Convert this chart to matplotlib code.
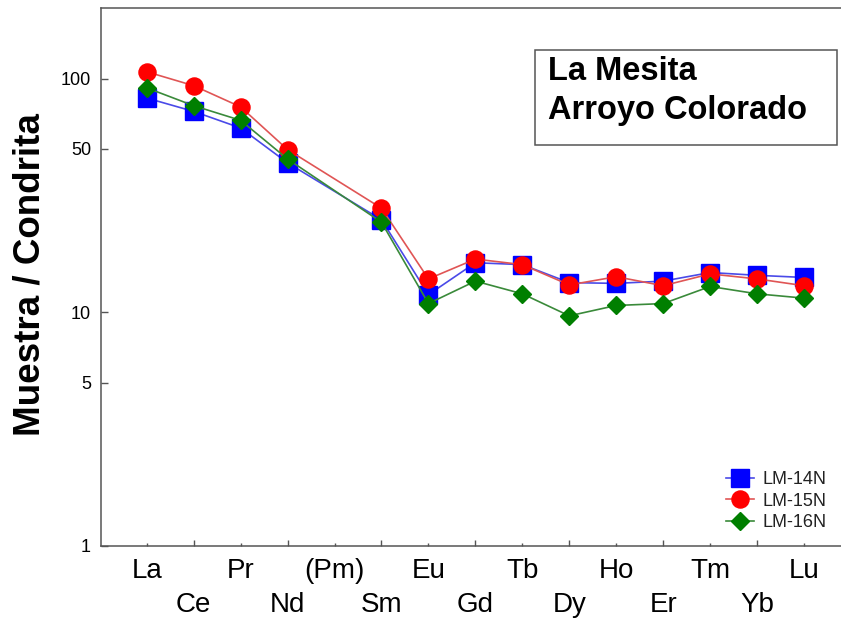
import matplotlib
matplotlib.use("Agg")
import matplotlib.pyplot as plt
from matplotlib.patches import Rectangle
import numpy as np

plt.rcParams['font.family'] = ['Liberation Sans', 'DejaVu Sans']

# REE elements along the x axis (Pm is not measured)
elements = ["La", "Ce", "Pr", "Nd", "(Pm)", "Sm", "Eu", "Gd", "Tb",
            "Dy", "Ho", "Er", "Tm", "Yb", "Lu"]
measured = ["La", "Ce", "Pr", "Nd", "Sm", "Eu", "Gd", "Tb",
            "Dy", "Ho", "Er", "Tm", "Yb", "Lu"]

# chondrite-normalised concentrations
lm14n = [82.6, 72.4, 61.5, 43.6, 24.9, 11.9, 16.3, 16.0, 13.4, 13.3, 13.6, 14.8, 14.4, 14.1]
lm15n = [107.0, 93.3, 75.7, 49.7, 27.9, 13.9, 16.9, 16.0, 13.1, 14.2, 13.0, 14.6, 13.9, 13.0]
lm16n = [91.3, 76.6, 66.3, 45.3, 24.3, 10.9, 13.6, 12.0, 9.66, 10.7, 10.9, 12.9, 12.0, 11.5]

y_ticks = [1, 5, 10, 50, 100]
y_ticklabels = ["1", "5", "10", "50", "100"]

W, H = 841, 625
fig = plt.figure(figsize=(W / 100, H / 100), dpi=100)
ax = fig.add_axes([100.7 / W, (H - 546) / H, (851 - 100.7) / W, (546 - 8.3) / H])

xpos = [elements.index(e) for e in measured]

series = [
    ("LM-14N", lm14n, "s", 13.0, "#0000ff", "#4a4ae8"),
    ("LM-15N", lm15n, "o", 12.3, "#ff0000", "#e05555"),
    ("LM-16N", lm16n, "D", 9.3, "#007f00", "#3a8a3a"),
]
for name, vals, mk, ms, fc, lc in series:
    ax.plot(xpos, vals, color=lc, lw=1.2, marker=mk, ms=ms,
            markerfacecolor=fc, markeredgecolor=fc, label=name)

ax.set_yscale("log")
ax.set_ylim(1, 200)
ax.set_xlim(-0.98, 15.0)

ax.yaxis.set_major_locator(matplotlib.ticker.FixedLocator(y_ticks))
ax.yaxis.set_major_formatter(matplotlib.ticker.FixedFormatter(y_ticklabels))
ax.yaxis.set_minor_locator(matplotlib.ticker.NullLocator())
ax.tick_params(axis="y", which="major", direction="in", length=5, width=1.0,
               color="#555555", labelsize=13, pad=7)

# two staggered rows of element labels
idx = np.arange(len(elements))
ax.set_xticks(idx[1::2])
ax.set_xticklabels(elements[1::2])
ax.set_xticks(idx[0::2], minor=True)
ax.set_xticklabels(elements[0::2], minor=True)
ax.tick_params(axis="x", which="major", direction="in", length=4.3, width=1.0,
               color="#555555", labelsize=20, pad=33)
ax.tick_params(axis="x", which="minor", direction="in", length=2, width=1.0,
               color="#555555", labelsize=20, pad=9)

for s in ["left", "bottom", "top"]:
    ax.spines[s].set_color("#555555")
    ax.spines[s].set_linewidth(1.1)
ax.spines["right"].set_visible(False)

fig.text(30 / W, 1 - 275 / H, "Muestra / Condrita", rotation=90,
         ha="center", va="center", fontsize=26.5, fontweight="bold")

# site label box
fig.patches.append(Rectangle((535 / W, 1 - 145 / H), (837 - 535) / W, (145 - 50) / H,
                             transform=fig.transFigure, fill=False,
                             edgecolor="#555555", linewidth=1.1))
fig.text(548 / W, 1 - 80 / H, "La Mesita", ha="left", va="baseline",
         fontsize=23.5, fontweight="bold")
fig.text(548 / W, 1 - 119 / H, "Arroyo Colorado", ha="left", va="baseline",
         fontsize=23.5, fontweight="bold")

leg = ax.legend(loc="upper left", bbox_to_anchor=(726 / W, 1 - 471 / H),
                bbox_transform=fig.transFigure, frameon=False, fontsize=13,
                borderpad=0, borderaxespad=0, handlelength=1.55, handletextpad=0.45,
                labelspacing=0.25)
for t in leg.get_texts():
    t.set_color("#222222")

fig.savefig("out.png", dpi=100)
